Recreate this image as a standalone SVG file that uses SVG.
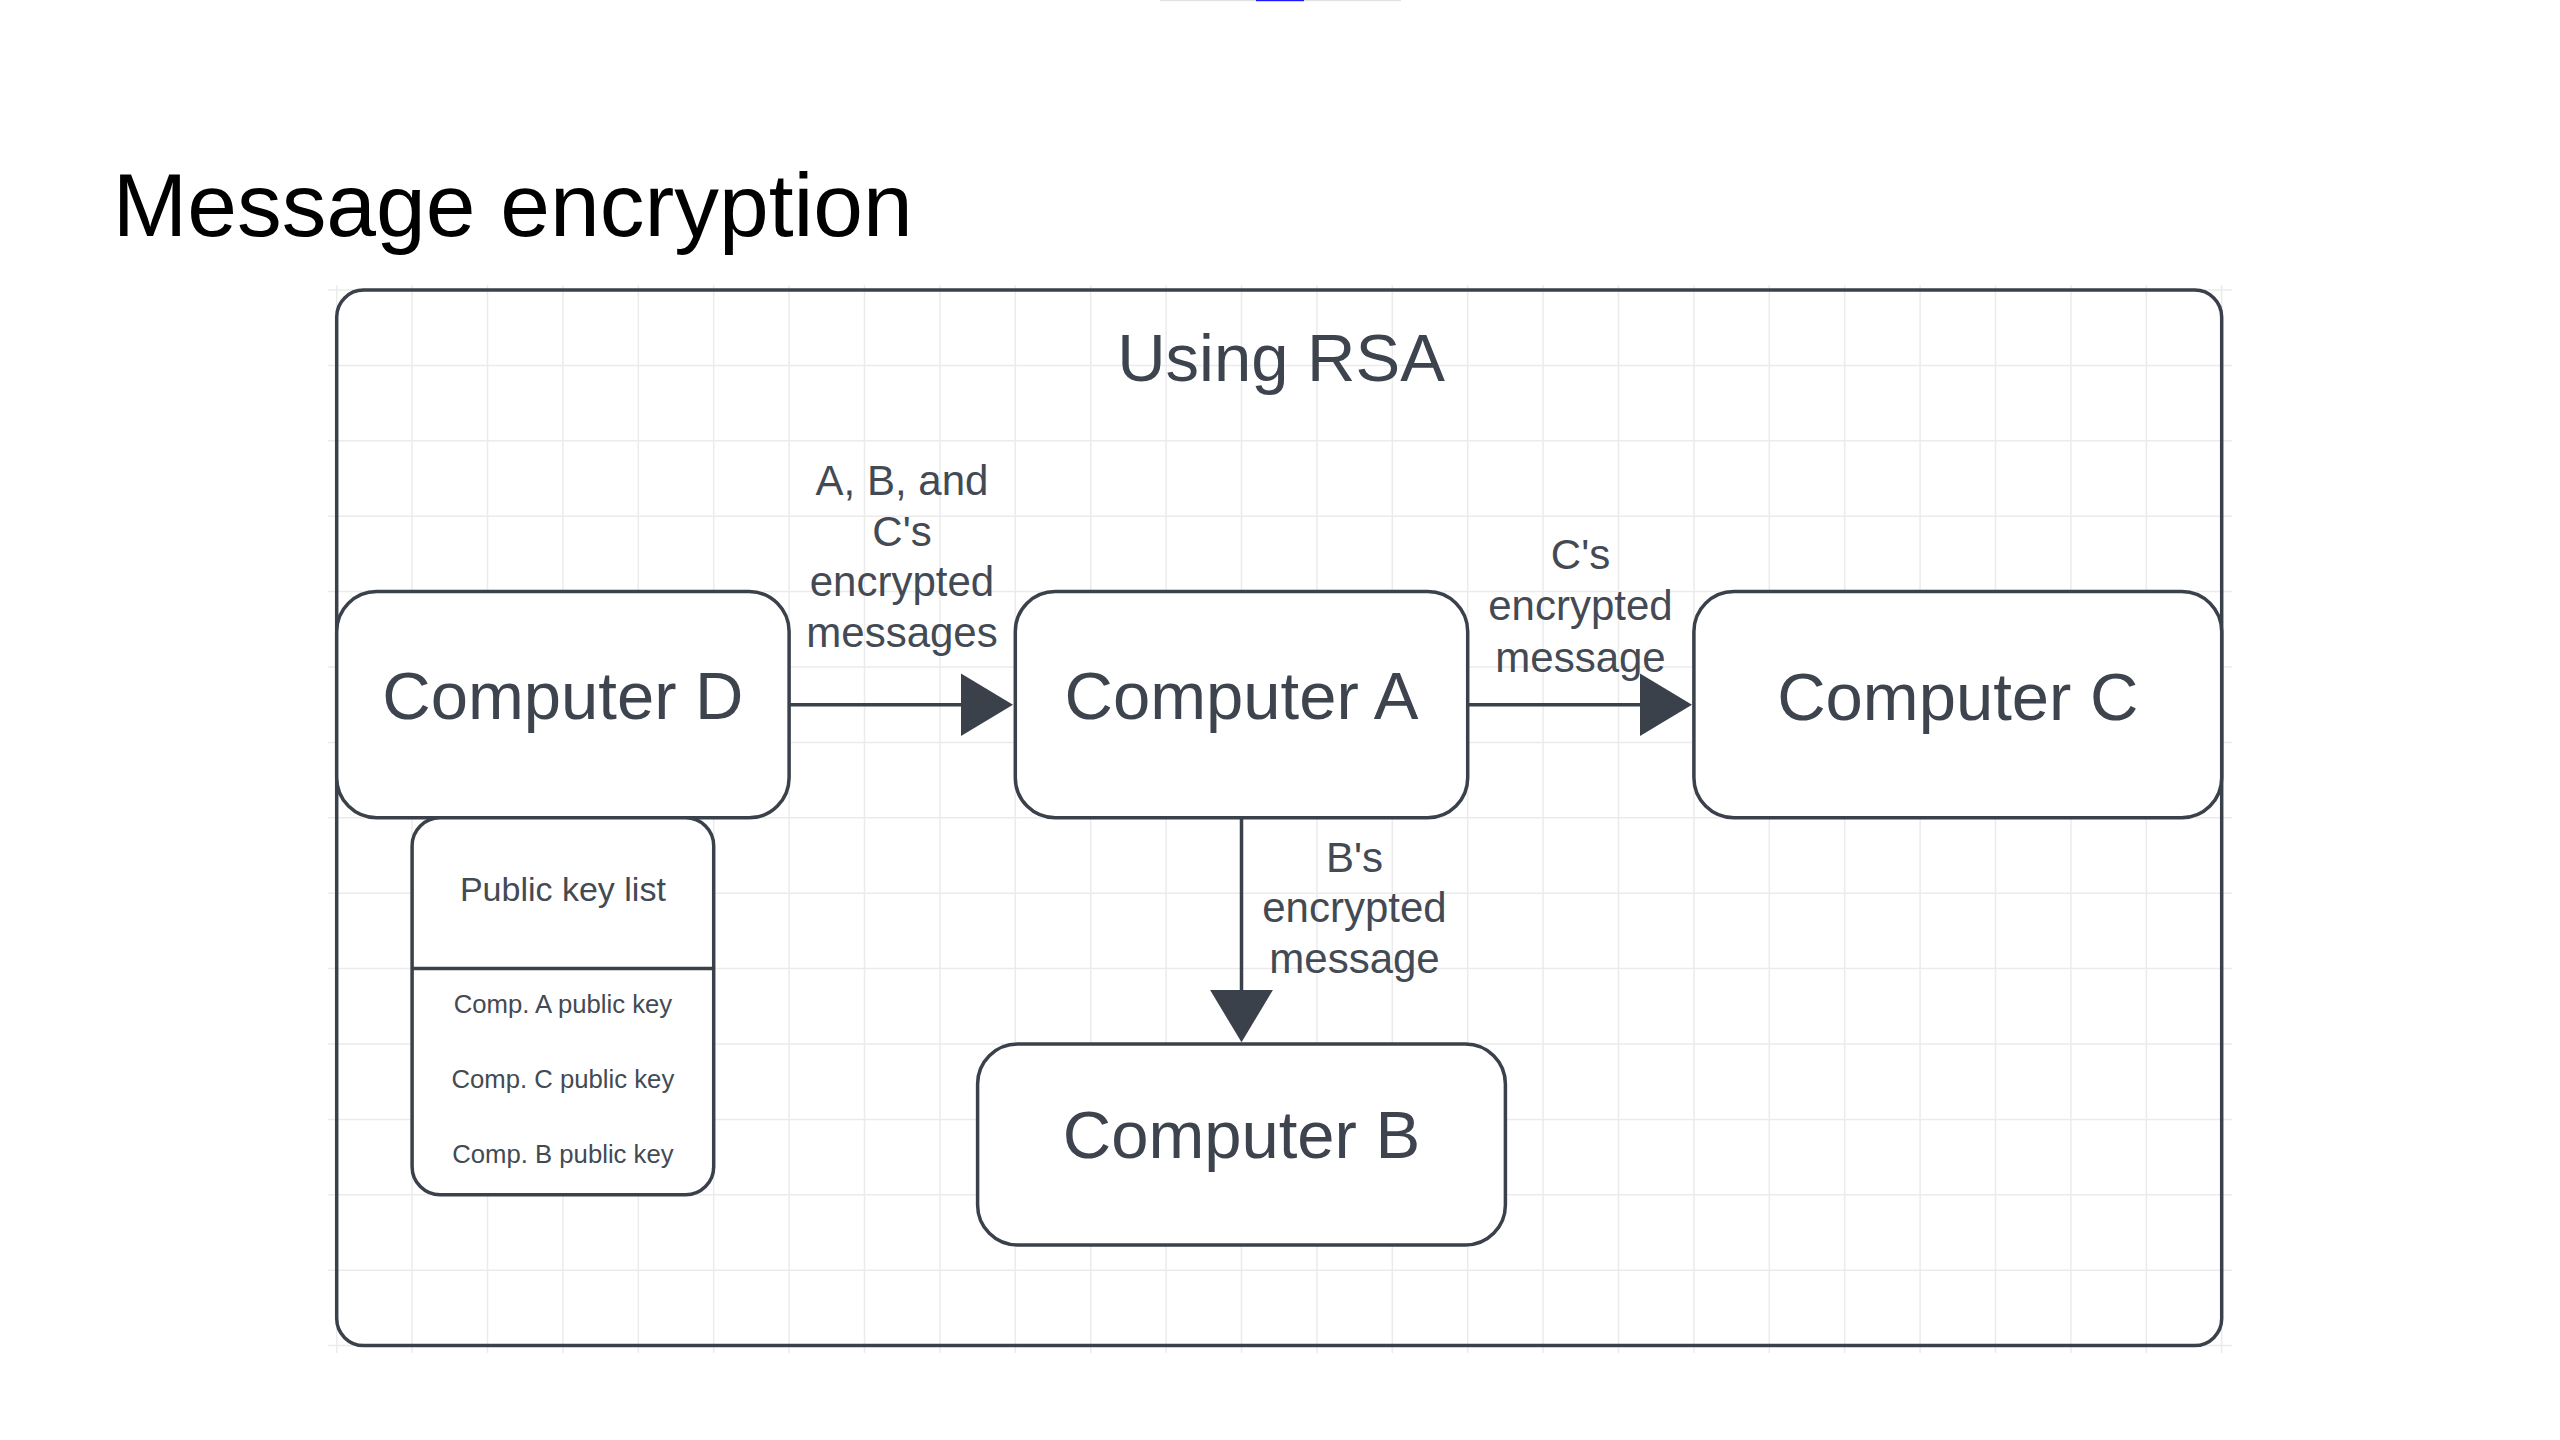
<svg xmlns="http://www.w3.org/2000/svg" width="2560" height="1440" viewBox="0 0 2560 1440">
  <style>
    .grid { stroke: #ebebeb; stroke-width: 1.5; fill: none; }
    .frame { fill: none; stroke: #3a414a; stroke-width: 3.5; }
    .node { fill: #ffffff; stroke: #3a414a; stroke-width: 3.5; }
    .conn { fill: none; stroke: #3a414a; stroke-width: 3.5; }
    .t { font-family: "Liberation Sans", Arial, sans-serif; fill: #3d444e; text-anchor: middle; }
    .big { font-size: 67px; }
    .lbl { font-size: 42px; fill: #434a54; }
    .hdr { font-size: 34px; fill: #434a54; }
    .item { font-size: 25.7px; fill: #434a54; }
    .title { font-family: "Liberation Sans", Arial, sans-serif; font-size: 89.4px; fill: #000000; }
  </style>
  <defs>
    <marker id="arrow" markerUnits="userSpaceOnUse" viewBox="0 0 53 64" markerWidth="53" markerHeight="64" refX="43" refY="32" orient="auto">
      <path d="M0,0.5 L52.5,32 L0,63.5 Z" fill="#3a414a"/>
    </marker>
  </defs>

  <rect x="0" y="0" width="2560" height="1440" fill="#ffffff"/>

  <!-- top slide indicator -->
  <rect x="1160" y="0" width="241" height="1.2" fill="#e3e3e3"/>
  <rect x="1256" y="0" width="48" height="1.2" fill="#1a1aff"/>

  <text class="title" x="112.8" y="236">Message encryption</text>

  <!-- grid -->
  <path class="grid" d="
    M336.7,285 V1353 M412.1,285 V1353 M487.5,285 V1353 M562.9,285 V1353 M638.3,285 V1353
    M713.7,285 V1353 M789.1,285 V1353 M864.5,285 V1353 M939.9,285 V1353 M1015.3,285 V1353
    M1090.7,285 V1353 M1166.1,285 V1353 M1241.5,285 V1353 M1316.9,285 V1353 M1392.3,285 V1353
    M1467.7,285 V1353 M1543.1,285 V1353 M1618.5,285 V1353 M1693.9,285 V1353 M1769.3,285 V1353
    M1844.7,285 V1353 M1920.1,285 V1353 M1995.5,285 V1353 M2070.9,285 V1353 M2146.3,285 V1353
    M2221.7,285 V1353
    M328,290 H2232 M328,365.4 H2232 M328,440.8 H2232 M328,516.2 H2232 M328,591.6 H2232
    M328,667 H2232 M328,742.4 H2232 M328,817.8 H2232 M328,893.2 H2232 M328,968.6 H2232
    M328,1044 H2232 M328,1119.4 H2232 M328,1194.8 H2232 M328,1270.2 H2232 M328,1345.6 H2232"/>

  <!-- container -->
  <g id="container">
    <rect class="frame" x="336.7" y="290" width="1885" height="1055.6" rx="27" ry="27"/>
    <text class="t big" x="1281" y="381">Using RSA</text>
  </g>

  <!-- connectors -->
  <g id="connectors">
    <path class="conn" d="M789.1,704.7 H1003.5" marker-end="url(#arrow)"/>
    <path class="conn" d="M1467.7,704.7 H1682.5" marker-end="url(#arrow)"/>
    <path class="conn" d="M1241.5,817.8 V1032.8" marker-end="url(#arrow)"/>
    <text class="t lbl" x="902" y="495">A, B, and</text>
    <text class="t lbl" x="902" y="545.7">C's</text>
    <text class="t lbl" x="902" y="596.3">encrypted</text>
    <text class="t lbl" x="902" y="647">messages</text>
    <text class="t lbl" x="1580.5" y="569.3">C's</text>
    <text class="t lbl" x="1580.5" y="620.4">encrypted</text>
    <text class="t lbl" x="1580.5" y="671.6">message</text>
    <text class="t lbl" x="1354.5" y="871.6">B's</text>
    <text class="t lbl" x="1354.5" y="922.4">encrypted</text>
    <text class="t lbl" x="1354.5" y="973.3">message</text>
  </g>

  <g id="computer-d">
    <rect class="node" x="336.7" y="591.6" width="452.4" height="226.2" rx="40" ry="40"/>
    <text class="t big" x="562.9" y="719">Computer D</text>
  </g>

  <g id="computer-a">
    <rect class="node" x="1015.3" y="591.6" width="452.4" height="226.2" rx="40" ry="40"/>
    <text class="t big" x="1241.5" y="719">Computer A</text>
  </g>

  <g id="computer-c">
    <rect class="node" x="1693.9" y="591.6" width="527.8" height="226.2" rx="40" ry="40"/>
    <text class="t big" x="1957.8" y="719.5">Computer C</text>
  </g>

  <g id="computer-b">
    <rect class="node" x="977.6" y="1044" width="527.8" height="201" rx="40" ry="40"/>
    <text class="t big" x="1241.5" y="1158.3">Computer B</text>
  </g>

  <g id="public-key-list">
    <rect class="node" x="412.1" y="817.8" width="301.6" height="377" rx="28" ry="28"/>
    <path class="conn" d="M412.1,968.6 H713.7"/>
    <text class="t hdr" x="562.9" y="900.7">Public key list</text>
    <text class="t item" x="562.9" y="1012.7">Comp. A public key</text>
    <text class="t item" x="562.9" y="1088.3">Comp. C public key</text>
    <text class="t item" x="562.9" y="1163.3">Comp. B public key</text>
  </g>
</svg>
